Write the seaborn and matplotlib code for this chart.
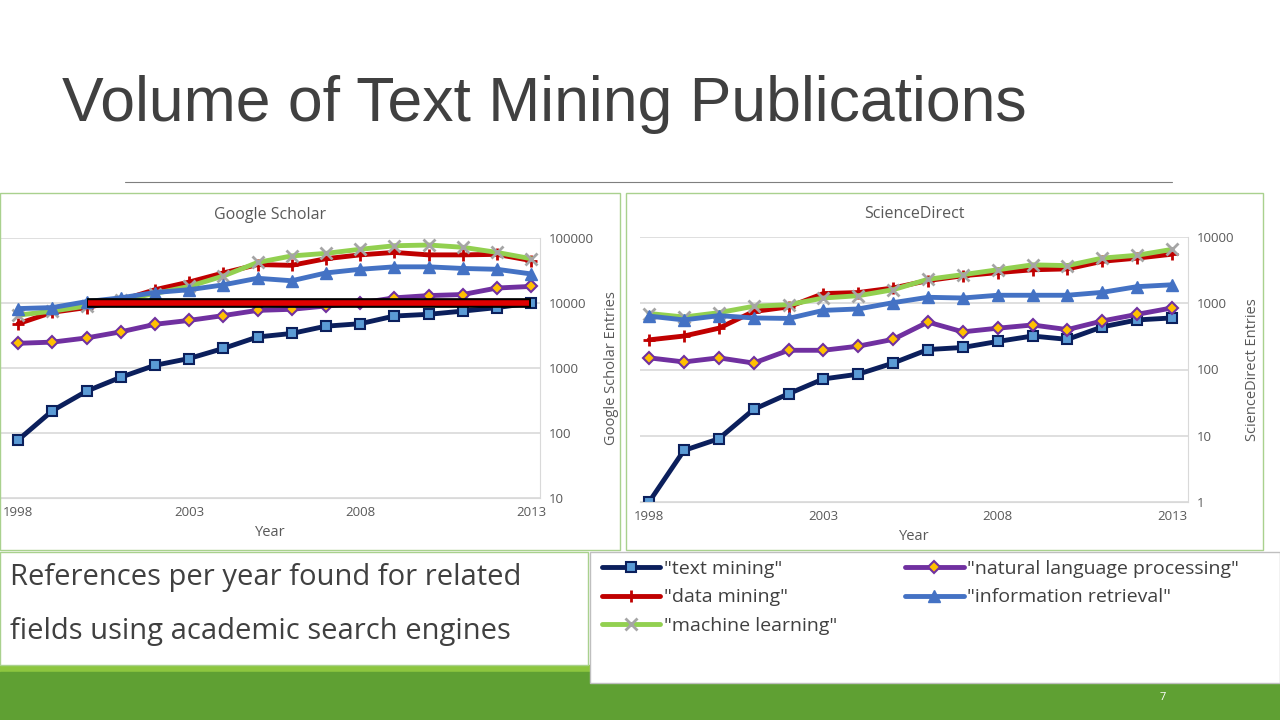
import matplotlib.pyplot as plt
import matplotlib.patches as mpatches
from matplotlib.lines import Line2D
import seaborn as sns
import pandas as pd

sns.set_style('white')
plt.rcParams['font.family'] = ['Open Sans', 'DejaVu Sans']

years = list(range(1998, 2014))

# Google Scholar entries
gs_text_mining = [78, 220, 440, 720, 1100, 1400, 2000, 3000, 3400, 4400, 4800, 6300, 6700, 7500, 8500, 10000]
gs_data_mining = [4800, 7200, 8500, 11000, 16000, 21000, 29000, 39000, 38000, 48000, 55000, 60000, 55000, 55000, 56000, 45000]
gs_machine_learning = [6500, 7500, 9000, 11000, 14000, 18000, 26000, 42000, 53000, 58000, 67000, 76000, 78000, 72000, 60000, 48000]
gs_nlp = [2400, 2500, 2900, 3600, 4700, 5400, 6400, 7700, 8000, 9000, 10000, 12000, 13000, 13500, 17000, 18000]
gs_info_retrieval = [8200, 8500, 10500, 12000, 14500, 16000, 19000, 24000, 22000, 29000, 33000, 36000, 36000, 34000, 33000, 28000]

# ScienceDirect entries
sd_text_mining = [1, 6, 9, 25, 43, 72, 85, 125, 200, 215, 265, 320, 285, 440, 560, 600]
sd_data_mining = [280, 320, 420, 750, 880, 1400, 1450, 1700, 2200, 2600, 2900, 3200, 3300, 4300, 4800, 5500]
sd_machine_learning = [700, 620, 720, 900, 950, 1200, 1300, 1600, 2300, 2700, 3200, 3800, 3700, 4800, 5300, 6500]
sd_nlp = [150, 130, 150, 125, 195, 195, 225, 285, 520, 370, 420, 470, 400, 540, 680, 850]
sd_info_retrieval = [640, 560, 650, 600, 590, 780, 820, 1020, 1230, 1200, 1320, 1320, 1320, 1460, 1780, 1900]

labels = ['"text mining"', '"data mining"', '"machine learning"',
          '"natural language processing"', '"information retrieval"']

styles = {
    labels[0]: dict(color='#0B1F5C', marker='s', markerfacecolor='#5B9BD5', markeredgecolor='#0B1F5C', markersize=7, mew=1.5),
    labels[1]: dict(color='#C00000', marker='+', markerfacecolor='#C00000', markeredgecolor='#C00000', markersize=9, mew=2),
    labels[2]: dict(color='#92D050', marker='x', markerfacecolor='#A5A5A5', markeredgecolor='#A5A5A5', markersize=8, mew=2),
    labels[3]: dict(color='#7030A0', marker='D', markerfacecolor='#FFC000', markeredgecolor='#7030A0', markersize=6, mew=1.5),
    labels[4]: dict(color='#4472C4', marker='^', markerfacecolor='#4472C4', markeredgecolor='#4472C4', markersize=8, mew=1),
}

def draw(ax, series, title, ylabel, xlim, ylim, yticks):
    for lab, vals in zip(labels, series):
        df = pd.DataFrame({'Year': years, 'v': vals})
        sns.lineplot(data=df, x='Year', y='v', ax=ax, linewidth=3.5, **styles[lab])
    ax.set_yscale('log')
    ax.set_xlim(*xlim)
    ax.set_ylim(*ylim)
    ax.set_yticks(yticks)
    ax.set_yticklabels([str(t) for t in yticks])
    ax.minorticks_off()
    ax.set_xticks([1998, 2003, 2008, 2013])
    ax.yaxis.tick_right()
    ax.yaxis.set_label_position('right')
    ax.grid(axis='y', color='#D9D9D9', linewidth=1.2)
    for s in ['top', 'left']:
        ax.spines[s].set_visible(False)
    ax.spines['right'].set_color('#D9D9D9')
    ax.spines['bottom'].set_color('#D9D9D9')
    ax.tick_params(labelsize=9.5, colors='#595959', length=0, pad=6)
    ax.set_xlabel('Year', fontsize=10.5, color='#595959', labelpad=4)
    ax.set_ylabel(ylabel, fontsize=10.5, color='#595959', labelpad=8)
    ax.set_title(title, fontsize=11.5, color='#595959', pad=14)

fig = plt.figure(figsize=(12.8, 7.2), dpi=100)
W, H = 1280, 720

def fax(x0, y0, x1, y1):
    return fig.add_axes([x0 / W, 1 - y1 / H, (x1 - x0) / W, (y1 - y0) / H])

# chart frames
fig.patches.append(mpatches.Rectangle((0, 1 - 550 / H), 620 / W, 357 / H, transform=fig.transFigure,
                                      fill=False, edgecolor='#A9D18E', lw=1))
fig.patches.append(mpatches.Rectangle((626 / W, 1 - 550 / H), 637 / W, 357 / H, transform=fig.transFigure,
                                      fill=False, edgecolor='#A9D18E', lw=1))

ax1 = fax(0, 238, 540, 498)
draw(ax1, [gs_text_mining, gs_data_mining, gs_machine_learning, gs_nlp, gs_info_retrieval],
     'Google Scholar', 'Google Scholar Entries', (1997.47, 2013.26), (10, 100000),
     [10, 100, 1000, 10000, 100000])
# highlight bar
ax1.plot([2000, 2013], [10000, 10000], color='black', lw=7, solid_capstyle='butt', zorder=5)
ax1.plot([2000.05, 2012.95], [10000, 10000], color='#E00000', lw=4, solid_capstyle='butt', zorder=6)

ax2 = fax(640, 237, 1188, 502)
draw(ax2, [sd_text_mining, sd_data_mining, sd_machine_learning, sd_nlp, sd_info_retrieval],
     'ScienceDirect', 'ScienceDirect Entries', (1997.74, 2013.46), (1, 10000),
     [1, 10, 100, 1000, 10000])

# title and rule
fig.text(62 / W, 1 - 105 / H, 'Volume of Text Mining Publications', fontsize=45, color='#404040',
         va='center', family=['Liberation Sans', 'DejaVu Sans'])
fig.add_artist(Line2D([125 / W, 1172 / W], [1 - 182 / H] * 2, color='#7F7F7F', lw=0.8))

# bottom bars
fig.patches.append(mpatches.Rectangle((0, 1 - 672 / H), 1, 7 / H, transform=fig.transFigure, color='#8DC63F', zorder=0))
fig.patches.append(mpatches.Rectangle((0, 0), 1, 48 / H, transform=fig.transFigure, color='#5FA033', zorder=0))
fig.text(1163 / W, 1 - 697 / H, '7', fontsize=8, color='white', ha='center', va='center')

# caption
fig.patches.append(mpatches.Rectangle((0, 1 - 665 / H), 588 / W, 113 / H, transform=fig.transFigure,
                                      facecolor='white', edgecolor='#A9D18E', lw=1, zorder=1))
fig.text(10 / W, 1 - 578 / H, 'References per year found for related', fontsize=21, color='#404040', va='center', zorder=2)
fig.text(10 / W, 1 - 632 / H, 'fields using academic search engines', fontsize=21, color='#404040', va='center', zorder=2)

# legend
fig.patches.append(mpatches.Rectangle((590 / W, 1 - 683 / H), 690 / W, 131 / H, transform=fig.transFigure,
                                      facecolor='white', edgecolor='#BFBFBF', lw=1, zorder=1))
lax = fax(590, 552, 1280, 683)
lax.set_zorder(3)
lax.patch.set_alpha(0)
lax.axis('off')
handles = [Line2D([], [], linewidth=3.5, **styles[l]) for l in labels]
lax.legend(handles, labels, ncol=2, loc='upper left',
           bbox_to_anchor=(0, 1.03), frameon=False, fontsize=14, handlelength=3,
           columnspacing=3.5, labelspacing=0.55, borderaxespad=0.2, handletextpad=0.2,
           labelcolor='#404040')

fig.savefig('out.png', dpi=100)
